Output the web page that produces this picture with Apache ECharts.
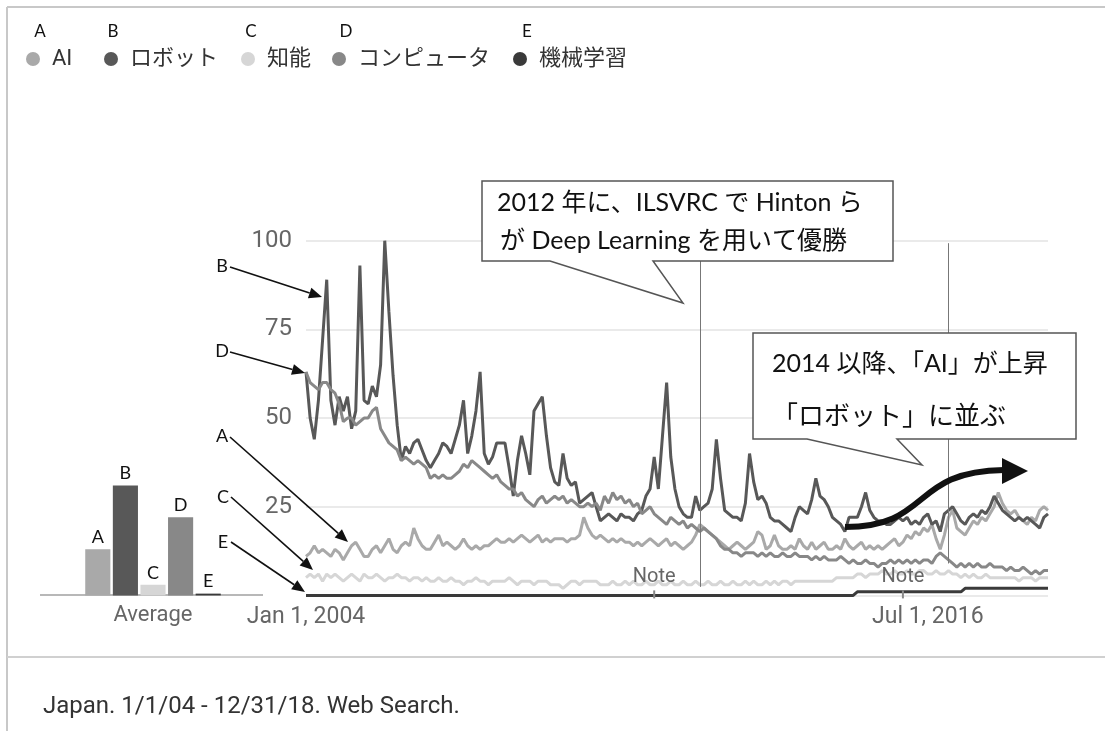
<!DOCTYPE html>
<html><head><meta charset="utf-8">
<script src="https://cdn.jsdelivr.net/npm/echarts@6.0.0/dist/echarts.min.js"></script>
<style>html,body{margin:0;padding:0;background:#fff}#c{width:1105px;height:731px}</style>
</head><body><div id="c"></div>
<script>
// ---- data ----
const seriesNames = ['AI', 'ロボット', '知能', 'コンピュータ', '機械学習'];
const seriesLetters = ['A', 'B', 'C', 'D', 'E'];

const aiValues = [
  11,12,14,12,13,12,11,13,12,10,12,14,
  15,13,11,11,13,14,12,14,16,13,12,14,
  15,14,19,16,14,13,13,15,17,14,15,14,
  13,14,16,14,13,14,13,14,14,15,16,15,
  15,16,15,16,17,16,15,16,17,15,16,15,
  16,16,16,15,16,16,17,22,19,17,16,17,
  16,15,16,15,16,15,15,14,15,14,15,16,
  15,14,15,16,14,15,14,13,14,15,17,20,
  19,18,17,16,15,14,13,14,15,14,13,14,
  15,18,17,13,14,17,14,13,13,14,13,16,
  14,13,15,13,14,15,13,13,14,13,16,14,
  13,14,15,13,14,13,14,13,14,15,16,14,
  15,17,16,18,17,19,18,20,16,13,17,22,
  24,19,18,17,19,21,20,22,21,23,25,29,
  26,24,23,24,22,21,20,22,21,24,25,24
];
const robotValues = [
  63,50,44,55,72,89,55,48,56,52,56,47,
  52,93,55,54,59,56,65,100,80,62,48,38,
  42,40,43,44,41,38,36,38,40,43,42,40,
  44,48,55,40,45,52,63,40,37,39,43,43,
  43,36,28,38,45,40,34,52,54,56,45,36,
  32,31,40,33,31,32,26,27,28,29,25,21,
  22,23,22,21,23,22,22,21,23,24,28,30,
  39,30,45,60,39,30,25,23,22,22,28,24,
  25,26,30,44,33,24,23,22,22,21,26,40,
  32,27,28,26,22,21,21,20,19,18,22,25,
  24,23,27,33,28,27,25,22,21,20,18,22,
  22,22,25,29,24,22,21,21,20,20,21,22,
  21,22,20,21,20,22,23,20,21,18,23,24,
  25,23,21,20,22,23,22,24,23,25,28,26,
  24,23,22,21,22,21,22,21,20,19,22,23
];
const intelligenceValues = [
  5,6,5,6,4,6,5,6,5,4,5,6,
  5,4,6,5,5,6,5,4,5,5,6,5,
  5,4,5,5,4,5,4,4,5,4,4,5,
  4,4,3,4,4,5,4,4,3,4,4,4,
  4,5,4,3,4,4,4,3,4,4,4,3,
  3,3,2,3,4,4,3,4,4,4,4,3,
  3,3,4,3,3,4,3,4,3,3,4,3,
  3,4,3,3,4,3,3,4,3,3,4,3,
  3,4,3,3,4,3,3,4,3,3,4,3,
  4,3,3,4,3,4,3,4,4,3,4,4,
  4,4,4,4,4,4,4,4,5,5,5,5,
  5,6,6,5,6,6,6,7,6,6,7,6,
  6,7,6,6,7,7,6,6,7,6,6,7,
  6,6,5,6,5,6,5,5,6,5,5,5,
  5,5,5,5,4,5,5,5,4,5,5,5
];
const computerValues = [
  63,60,59,58,60,60,58,57,54,49,50,50,
  48,49,50,50,52,53,47,45,43,42,41,38,
  39,38,37,38,37,36,33,34,33,34,33,33,
  34,35,37,36,38,37,36,35,34,33,34,32,
  31,30,30,28,29,27,26,25,27,28,26,27,
  28,27,28,26,27,26,25,25,26,25,26,24,
  28,26,29,27,28,26,27,25,26,23,24,25,
  23,22,21,20,22,21,20,21,19,20,19,18,
  19,18,17,16,14,13,13,12,12,11,12,12,
  12,11,12,11,12,11,11,12,11,11,12,11,
  11,11,10,11,10,11,10,10,10,11,10,9,
  10,9,9,10,9,9,8,9,9,10,9,10,
  9,10,9,10,9,10,10,9,11,12,11,10,
  9,8,9,8,9,8,9,8,8,9,8,8,
  8,7,8,7,7,8,7,6,7,6,7,7
];
const machineLearningValues = [
  0,0,0,0,0,0,0,0,0,0,0,0,
  0,0,0,0,0,0,0,0,0,0,0,0,
  0,0,0,0,0,0,0,0,0,0,0,0,
  0,0,0,0,0,0,0,0,0,0,0,0,
  0,0,0,0,0,0,0,0,0,0,0,0,
  0,0,0,0,0,0,0,0,0,0,0,0,
  0,0,0,0,0,0,0,0,0,0,0,0,
  0,0,0,0,0,0,0,0,0,0,0,0,
  0,0,0,0,0,0,0,0,0,0,0,0,
  0,0,0,0,0,0,0,0,0,0,0,0,
  0,0,0,0,0,0,0,0,0,0,0,0,
  0,1,1,1,1,1,1,1,1,1,1,1,
  1,1,1,1,1,1,1,1,1,1,1,1,
  1,1,1,2,2,2,2,2,2,2,2,2,
  2,2,2,2,2,2,2,2,2,2,2,2
];
const averageValues = [13, 31, 3, 22, 0.5];

const xTickIndex = [0, 150];
const xTickText = ['Jan 1, 2004', 'Jul 1, 2016'];
const noteIndex = [84, 144];
const eventIndex = [95, 155];   // annotation vertical lines (Dec 2011, Dec 2016)
const eventTop = [100, 99.3];
const eventBottom = [2.4, 9];

const months = [];
for (let y = 2004; y <= 2018; y++) for (let m = 1; m <= 12; m++) months.push(y + '-' + String(m).padStart(2, '0'));

// ---- styling ----
const colors = ['#a9a9a9', '#585858', '#d6d6d6', '#888888', '#3a3a3a'];
const values = [aiValues, robotValues, intelligenceValues, computerValues, machineLearningValues];
const sansFont = 'Roboto, "Noto Sans CJK JP", sans-serif';
const noteFont = 'Lato, "Noto Sans CJK JP", sans-serif';
const legendLeft = [26, 104, 241, 332, 513];
const legendLetterX = [40, 113, 251, 346, 527];

const GRID_TOP = 240.7, GRID_BOTTOM = 135.6;

function arrow(x1, y1, x2, y2) {
  const a = Math.atan2(y2 - y1, x2 - x1), L = 13, W = 5.5;
  const bx = x2 - L * Math.cos(a), by = y2 - L * Math.sin(a);
  return [
    { type: 'line', shape: { x1: x1, y1: y1, x2: bx, y2: by }, style: { stroke: '#111', lineWidth: 1.6 }, z: 100 },
    { type: 'polygon', shape: { points: [[x2, y2], [bx + W * Math.sin(a), by - W * Math.cos(a)], [bx - W * Math.sin(a), by + W * Math.cos(a)]] }, style: { fill: '#111' }, z: 100 }
  ];
}
function label(txt, x, y, size, align) {
  return { type: 'text', x: x, y: y, z: 101, style: { text: txt, fontSize: size || 18, fontFamily: noteFont, fill: '#111', align: align || 'center', verticalAlign: 'middle' } };
}

const graphics = [
  // frame
  { type: 'line', shape: { x1: 7, y1: 7, x2: 1105, y2: 7 }, style: { stroke: '#c8c8c8', lineWidth: 2 }, z: 1 },
  { type: 'line', shape: { x1: 7, y1: 7, x2: 7, y2: 731 }, style: { stroke: '#c8c8c8', lineWidth: 2 }, z: 1 },
  { type: 'line', shape: { x1: 7, y1: 657, x2: 1105, y2: 657 }, style: { stroke: '#d0d0d0', lineWidth: 2 }, z: 1 },
  // average baseline
  { type: 'line', shape: { x1: 40, y1: 595, x2: 263, y2: 595 }, style: { stroke: '#b8b8b8', lineWidth: 2 }, z: 1 },
  // legend letters
  ...seriesLetters.map((t, k) => label(t, legendLetterX[k], 32, 17)),
  // side letters
  label('B', 222, 266), label('D', 222, 351), label('A', 222, 436), label('C', 223, 497), label('E', 223, 542),
  ...arrow(230, 267, 322, 297),
  ...arrow(230, 352, 305, 373),
  ...arrow(230, 437, 348, 542),
  ...arrow(231, 497, 313, 570),
  ...arrow(231, 542, 305, 592),
  // callout 1
  { type: 'polygon', z: 100, shape: { points: [[482, 181], [893, 181], [893, 261], [653, 261], [683, 303], [550, 261], [482, 261]] }, style: { fill: '#fff', stroke: '#555', lineWidth: 1.5 } },
  { type: 'text', x: 497, y: 203, z: 101, style: { text: '2012 年に、ILSVRC で Hinton ら', fontSize: 25, fontFamily: noteFont, fill: '#111', verticalAlign: 'middle' } },
  { type: 'text', x: 500, y: 241, z: 101, style: { text: 'が Deep Learning を用いて優勝', fontSize: 25, fontFamily: noteFont, fill: '#111', verticalAlign: 'middle' } },
  // callout 2
  { type: 'polygon', z: 100, shape: { points: [[753, 333], [1076, 333], [1076, 439], [897, 439], [922, 465], [807, 439], [753, 439]] }, style: { fill: '#fff', stroke: '#555', lineWidth: 1.5 } },
  { type: 'text', x: 772, y: 364, z: 101, style: { text: '2014 以降、「AI」が上昇', fontSize: 25, fontFamily: noteFont, fill: '#111', verticalAlign: 'middle' } },
  { type: 'text', x: 772, y: 417, z: 101, style: { text: '「ロボット」に並ぶ', fontSize: 26, fontFamily: noteFont, fill: '#111', verticalAlign: 'middle' } },
  // black trend arrow
  { type: 'bezierCurve', z: 102, shape: { x1: 845, y1: 527, cpx1: 932, cpy1: 527, cpx2: 910, cpy2: 471, x2: 1004, y2: 470 }, style: { stroke: '#111', lineWidth: 6, fill: null } },
  { type: 'polygon', z: 102, shape: { points: [[1002, 458], [1028, 471], [1002, 484]] }, style: { fill: '#111' } },
  // footer
  { type: 'text', x: 43, y: 707, z: 101, style: { text: 'Japan. 1/1/04 - 12/31/18. Web Search.', fontSize: 24, fontFamily: sansFont, fill: '#333', verticalAlign: 'middle' } }
];

const lineSeries = seriesNames.map((n, k) => ({
  type: 'line', name: n, data: values[k], xAxisIndex: 0, yAxisIndex: 0,
  symbol: 'none', showSymbol: false,
  lineStyle: { width: 3, color: colors[k] }, itemStyle: { color: colors[k] },
  emphasis: { disabled: true }, animation: false
}));
lineSeries[4].markLine = {
  silent: true, symbol: 'none', label: { show: false },
  lineStyle: { color: '#777', width: 1, type: 'solid' },
  data: eventIndex.map((ix, k) => [{ coord: [months[ix], eventTop[k]] }, { coord: [months[ix], eventBottom[k]] }])
};
lineSeries[4].markPoint = {
  silent: true, symbol: 'rect', symbolSize: [2, 8], symbolOffset: [0, -1],
  itemStyle: { color: '#888' },
  label: { show: true, position: 'top', distance: 3, formatter: 'Note', fontSize: 20, color: '#666', fontFamily: sansFont },
  data: noteIndex.map(ix => ({ coord: [months[ix], 0] }))
};

const legends = seriesNames.map((n, k) => ({
  data: [n], left: legendLeft[k], top: 46, padding: 0,
  icon: 'circle', itemWidth: 28, itemHeight: 14, selectedMode: false,
  textStyle: { fontSize: 22, lineHeight: 26, color: '#333', fontFamily: sansFont }
}));

const chart = echarts.init(document.getElementById('c'), null, { renderer: 'canvas' });
chart.setOption({
  animation: false,
  backgroundColor: '#fff',
  legend: legends,
  grid: [
    { left: 306, right: 57, top: GRID_TOP, bottom: GRID_BOTTOM },
    { left: 84, width: 138, top: GRID_TOP, bottom: GRID_BOTTOM }
  ],
  xAxis: [
    {
      type: 'category', gridIndex: 0, data: months, boundaryGap: false,
      axisLine: { show: false }, axisTick: { show: false }, splitLine: { show: false },
      axisLabel: {
        interval: (i) => xTickIndex.includes(i),
        formatter: (v, i) => { const k = xTickIndex.indexOf(i); return k >= 0 ? xTickText[k] : ''; },
        fontSize: 23, color: '#666', margin: 10, fontFamily: sansFont, hideOverlap: false
      }
    },
    {
      type: 'category', gridIndex: 1, data: seriesLetters,
      axisLine: { show: false }, axisTick: { show: false }, axisLabel: { show: false },
      name: 'Average', nameLocation: 'middle', nameGap: 9,
      nameTextStyle: { fontSize: 22, color: '#666', fontFamily: sansFont, verticalAlign: 'top' }
    }
  ],
  yAxis: [
    {
      type: 'value', gridIndex: 0, min: 0, max: 100, interval: 25,
      axisLine: { show: false }, axisTick: { show: false },
      axisLabel: { formatter: v => (v === 0 ? '' : v), fontSize: 24, color: '#666', margin: 14, fontFamily: sansFont },
      splitLine: { lineStyle: { color: '#e3e3e3', width: 1.5 } }
    },
    { type: 'value', gridIndex: 1, min: 0, max: 100, show: false }
  ],
  series: [
    ...lineSeries,
    {
      type: 'bar', name: 'Average', xAxisIndex: 1, yAxisIndex: 1, barCategoryGap: '9%',
      data: averageValues.map((v, k) => ({ value: v, itemStyle: { color: colors[k] } })),
      label: { show: true, position: 'top', distance: 3, formatter: p => seriesLetters[p.dataIndex], fontSize: 18, color: '#111', fontFamily: noteFont },
      emphasis: { disabled: true }, animation: false
    }
  ],
  graphic: graphics
});
</script>
</body></html>
